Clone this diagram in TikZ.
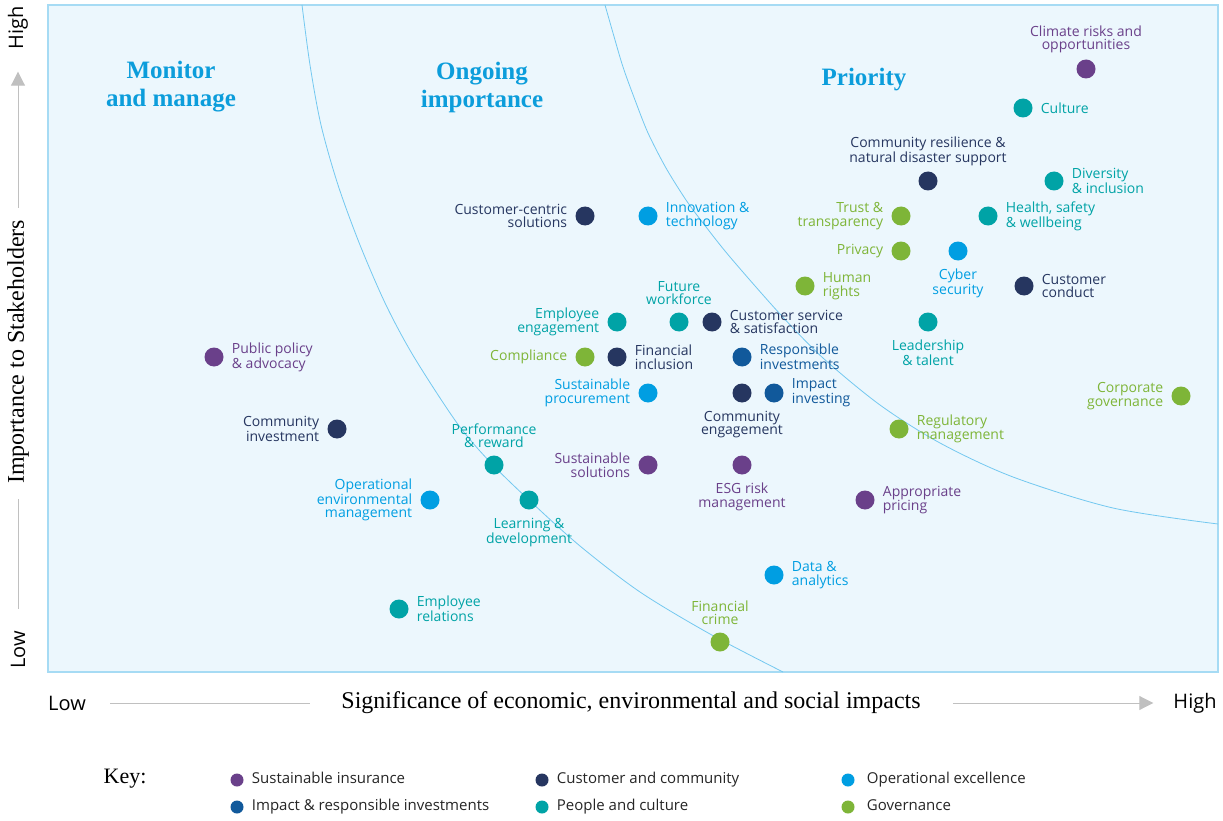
\documentclass[tikz,border=0pt]{standalone}
\usepackage{fontspec}
\setmainfont{Liberation Serif}
\setsansfont{Open Sans}
\usetikzlibrary{positioning,arrows.meta}

\definecolor{insur}{RGB}{106,64,138}
\definecolor{commun}{RGB}{38,54,96}
\definecolor{opex}{RGB}{0,158,226}
\definecolor{invest}{RGB}{17,89,155}
\definecolor{people}{RGB}{0,163,166}
\definecolor{govern}{RGB}{126,181,56}
\definecolor{panelfill}{RGB}{236,247,253}
\definecolor{paneledge}{RGB}{166,219,244}
\definecolor{zoneline}{RGB}{115,200,240}
\definecolor{heading}{RGB}{12,157,219}
\definecolor{axisgrey}{RGB}{192,192,192}

\newcommand{\lblfont}{\sffamily\fontsize{14}{13.5}\selectfont}

\tikzset{
  issue/.style={circle,fill=#1,minimum size=19pt,inner sep=0pt},
  rlbl/.style={text=#1,font=\lblfont,inner sep=0pt,align=left},
  llbl/.style={text=#1,font=\lblfont,inner sep=0pt,align=right},
  clbl/.style={text=#1,font=\lblfont,inner sep=0pt,align=center},
  zonetitle/.style={text=heading,font=\bfseries\fontsize{25}{28}\selectfont,align=center,inner sep=0pt},
  keydot/.style={circle,fill=#1,minimum size=13pt,inner sep=0pt},
  keylbl/.style={font=\sffamily\fontsize{15}{18}\selectfont,text=black!85,inner sep=0pt,text height=11pt,text depth=3.5pt},
  axislbl/.style={font=\sffamily\fontsize{20}{24}\selectfont,inner sep=0pt},
  axistitle/.style={font=\fontsize{24}{28}\selectfont,inner sep=0pt},
  axisline/.style={draw=axisgrey,line width=1pt},
  axisarrow/.style={axisline,-{Triangle[length=14pt,width=14pt]}},
}

\begin{document}
\begin{tikzpicture}[x=1pt,y=-1pt]
\useasboundingbox (0,0) rectangle (1223,821);
\fill[white] (0,0) rectangle (1223,821);

% panel and zone borders
\draw[fill=panelfill,draw=paneledge,line width=1.5pt] (48,5) rectangle (1218,672);
\draw[zoneline,line width=0.8pt] plot[smooth] coordinates {(302,5) (310,65) (321,125) (338,185) (360,245) (386,305) (414,357) (457,423) (490,462) (529,500) (580,546) (640,592) (710,634) (783,672)};
\draw[zoneline,line width=0.8pt] plot[smooth] coordinates {(605,5) (613,33) (623,67) (635,100) (648,133) (666,168) (686,200) (703,223) (730,257) (780,314) (823,358) (880,405) (940,443) (1013,477) (1113,508) (1218,524)};

\node[zonetitle] (monitor) at (171,87) {Monitor\\and manage};
\node[zonetitle] (ongoing) at (482,87) {Ongoing\\importance};
\node[zonetitle] (priority) at (864,80) {Priority};

% priority
\node[issue=insur] (climate) at (1086,69) {};
\node[clbl=insur,above=6pt of climate] (climate-l) {Climate risks and\\opportunities};
\node[issue=people] (culture) at (1023,108) {};
\node[rlbl=people,right=8pt of culture] (culture-l) {Culture};
\node[issue=commun] (resil) at (928,181) {};
\node[clbl=commun,above=5pt of resil] (resil-l) {Community resilience \&\\natural disaster support};
\node[issue=people] (divers) at (1054,181) {};
\node[rlbl=people,right=8pt of divers] (divers-l) {Diversity\\\& inclusion};
\node[issue=govern] (trust) at (901,216) {};
\node[llbl=govern,left=8pt of trust] (trust-l) {Trust \&\\transparency};
\node[issue=people] (health) at (988,216) {};
\node[rlbl=people,right=8pt of health] (health-l) {Health, safety\\\& wellbeing};
\node[issue=govern] (privacy) at (901,251) {};
\node[llbl=govern,left=8pt of privacy] (privacy-l) {Privacy};
\node[issue=opex] (cyber) at (958,251) {};
\node[clbl=opex,below=8pt of cyber] (cyber-l) {Cyber\\security};
\node[issue=govern] (human) at (805,286) {};
\node[rlbl=govern,right=8pt of human] (human-l) {Human\\rights};
\node[issue=commun] (conduct) at (1024,286) {};
\node[rlbl=commun,right=8pt of conduct] (conduct-l) {Customer\\conduct};
\node[issue=people] (leader) at (928,322) {};
\node[clbl=people,below=8pt of leader] (leader-l) {Leadership\\\& talent};
\node[issue=govern] (corpgov) at (1181,396) {};
\node[llbl=govern,left=8pt of corpgov] (corpgov-l) {Corporate\\governance};
\node[issue=govern] (regul) at (899,429) {};
\node[rlbl=govern,right=8pt of regul] (regul-l) {Regulatory\\management};
\node[issue=insur] (pricing) at (865,500) {};
\node[rlbl=insur,right=8pt of pricing] (pricing-l) {Appropriate\\pricing};

% ongoing importance
\node[issue=commun] (centric) at (585,216) {};
\node[llbl=commun,left=8pt of centric] (centric-l) {Customer-centric\\solutions};
\node[issue=opex] (innov) at (648,216) {};
\node[rlbl=opex,right=8pt of innov] (innov-l) {Innovation \&\\technology};
\node[issue=people] (engage) at (617,322) {};
\node[llbl=people,left=8pt of engage] (engage-l) {Employee\\engagement};
\node[issue=people] (future) at (679,322) {};
\node[clbl=people,above=7pt of future] (future-l) {Future\\workforce};
\node[issue=commun] (service) at (712,322) {};
\node[rlbl=commun,right=8pt of service] (service-l) {Customer service\\\& satisfaction};
\node[issue=govern] (comply) at (585,357) {};
\node[llbl=govern,left=8pt of comply] (comply-l) {Compliance};
\node[issue=commun] (fininc) at (617,357) {};
\node[rlbl=commun,right=8pt of fininc] (fininc-l) {Financial\\inclusion};
\node[issue=invest] (respinv) at (742,357) {};
\node[rlbl=invest,right=8pt of respinv] (respinv-l) {Responsible\\investments};
\node[issue=opex] (procure) at (648,393) {};
\node[llbl=opex,left=8pt of procure] (procure-l) {Sustainable\\procurement};
\node[issue=commun] (comeng) at (742,393) {};
\node[clbl=commun,below=8pt of comeng] (comeng-l) {Community\\engagement};
\node[issue=invest] (impact) at (774,393) {};
\node[rlbl=invest,right=8pt of impact] (impact-l) {Impact\\investing};
\node[issue=insur] (sustsol) at (648,465) {};
\node[llbl=insur,left=8pt of sustsol] (sustsol-l) {Sustainable\\solutions};
\node[issue=insur] (esg) at (742,465) {};
\node[clbl=insur,below=8pt of esg] (esg-l) {ESG risk\\management};
\node[issue=opex] (data) at (774,575) {};
\node[rlbl=opex,right=8pt of data] (data-l) {Data \&\\analytics};
\node[issue=govern] (fincrime) at (720,642) {};
\node[clbl=govern,above=7pt of fincrime] (fincrime-l) {Financial\\crime};

% monitor and manage
\node[issue=insur] (policy) at (214,357) {};
\node[rlbl=insur,right=8pt of policy] (policy-l) {Public policy\\\& advocacy};
\node[issue=commun] (cominv) at (337,429) {};
\node[llbl=commun,left=8pt of cominv] (cominv-l) {Community\\investment};
\node[issue=people] (perform) at (494,465) {};
\node[clbl=people,above=7pt of perform] (perform-l) {Performance\\\& reward};
\node[issue=opex] (openv) at (430,500) {};
\node[llbl=opex,left=8pt of openv] (openv-l) {Operational\\environmental\\management};
\node[issue=people] (learn) at (529,500) {};
\node[clbl=people,below=8pt of learn] (learn-l) {Learning \&\\development};
\node[issue=people] (relat) at (399,609) {};
\node[rlbl=people,right=8pt of relat] (relat-l) {Employee\\relations};

% axes
\node[axislbl] (xlow) at (67,703) {Low};
\node[axistitle] (xtitle) at (631,703) {Significance of economic, environmental and social impacts};
\node[axislbl] (xhigh) at (1195,703) {High};
\draw[axisline,shorten <=24pt,shorten >=31pt] (xlow.east) -- (xtitle.west);
\draw[axisarrow,shorten <=32pt,shorten >=20pt] (xtitle.east) -- (xhigh.west);
\node[axislbl,rotate=90] (ylow) at (18,650) {Low};
\node[axistitle,rotate=90] (ytitle) at (18,352) {Importance to Stakeholders};
\node[axislbl,rotate=90] (yhigh) at (18,28) {High};
\draw[axisline,shorten <=22pt,shorten >=15pt] (ylow.east) -- (ytitle.west);
\draw[axisarrow,shorten <=12pt,shorten >=22pt] (ytitle.east) -- (yhigh.west);

% key
\node[font=\fontsize{22}{26}\selectfont,inner sep=0pt] (key) at (125,779) {Key:};
\node[keydot=insur] (k1) at (237,780) {};
\node[keylbl,right=8pt of k1] (k1-l) {Sustainable insurance};
\node[keydot=invest] (k2) at (237,807) {};
\node[keylbl,right=8pt of k2] (k2-l) {Impact \& responsible investments};
\node[keydot=commun] (k3) at (542,780) {};
\node[keylbl,right=8pt of k3] (k3-l) {Customer and community};
\node[keydot=people] (k4) at (542,807) {};
\node[keylbl,right=8pt of k4] (k4-l) {People and culture};
\node[keydot=opex] (k5) at (848,780) {};
\node[keylbl,right=12pt of k5] (k5-l) {Operational excellence};
\node[keydot=govern] (k6) at (848,807) {};
\node[keylbl,right=12pt of k6] (k6-l) {Governance};
\end{tikzpicture}
\end{document}
